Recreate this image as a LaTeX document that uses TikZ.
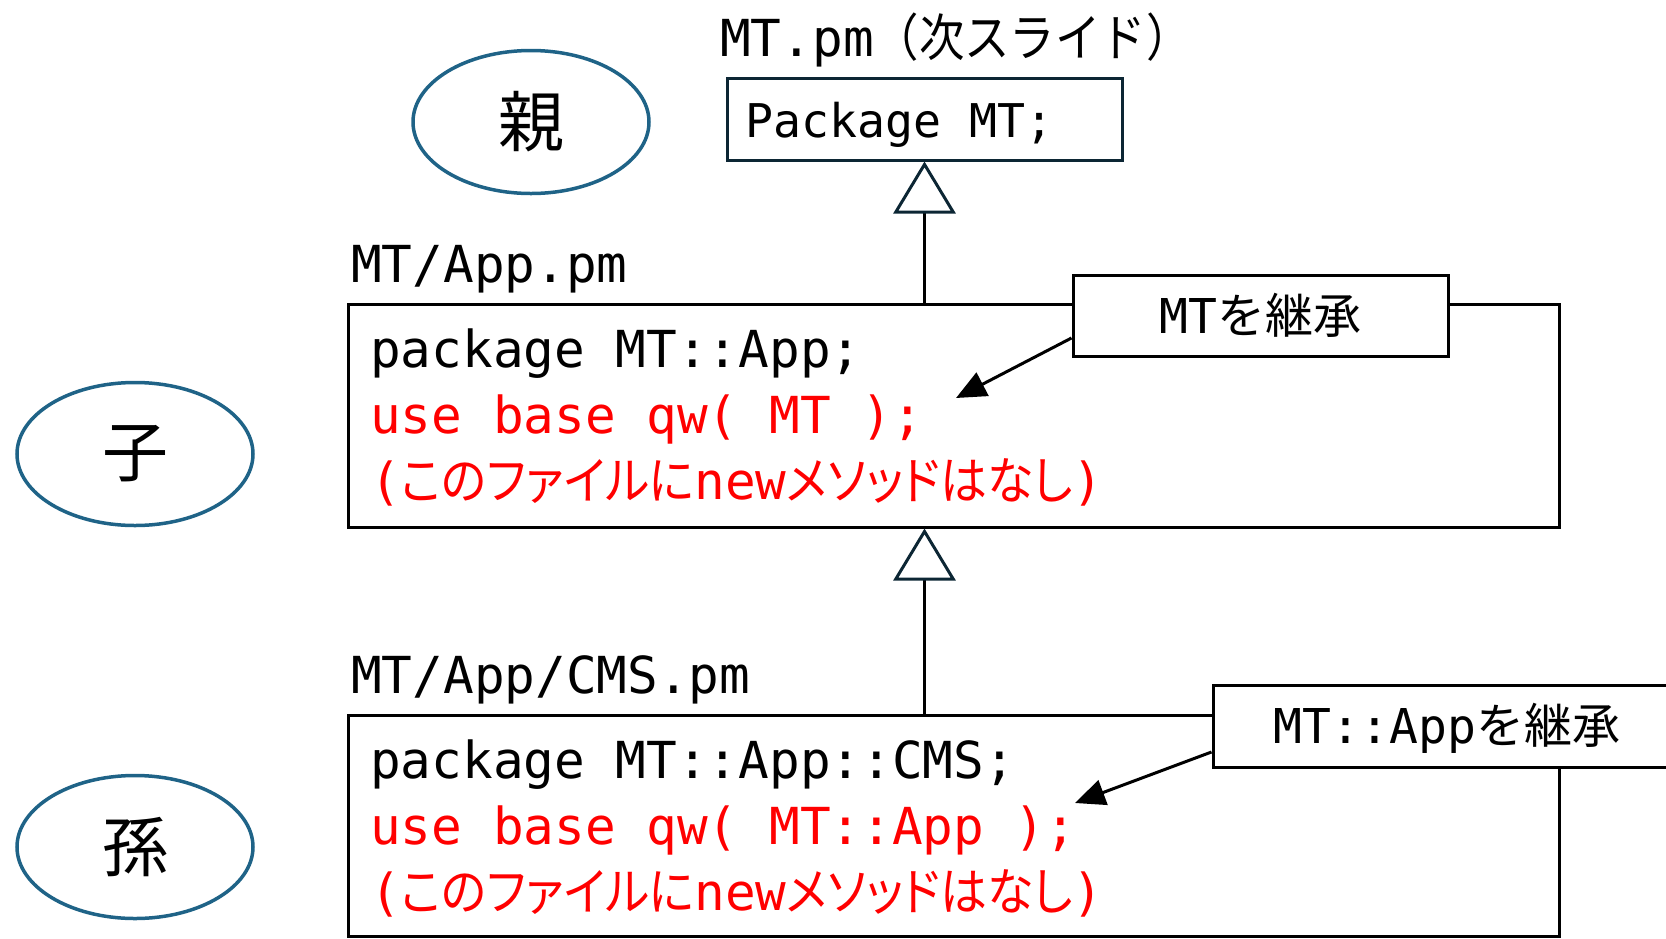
\documentclass[tikz,border=0pt]{standalone}
\usepackage{fontspec}
\setmonofont{DejaVu Sans Mono}
\newfontfamily\jp{Noto Sans CJK JP}
\newfontfamily\jpn[FakeStretch=0.89]{Noto Sans CJK JP}
\newfontfamily\jpp[RawFeature=+palt, FakeStretch=0.92]{Noto Sans CJK JP}
\usetikzlibrary{arrows.meta,shapes.geometric,calc}
\definecolor{ellc}{RGB}{31,99,135}
\definecolor{navy}{RGB}{12,38,52}
\definecolor{codered}{RGB}{255,0,0}
\tikzset{
  ellnode/.style={draw=ellc, line width=3.5pt, ellipse, minimum width=236pt, minimum height=143pt, inner sep=0pt, font=\jp\fontsize{66pt}{70pt}\selectfont},
  bigbox/.style={draw=black, line width=3pt, inner sep=0pt},
  pmbox/.style={draw=navy, line width=3pt, inner sep=0pt},
  callbox/.style={draw=black, fill=white, line width=3pt, inner sep=0pt, text height=45pt, text depth=10pt, font=\ttfamily\fontsize{48pt}{54pt}\selectfont},
  codetxt/.style={anchor=base west, inner sep=0pt, font=\ttfamily\fontsize{51pt}{60pt}\selectfont},
  redtxt/.style={codetxt, text=codered},
  lbltxt/.style={anchor=base west, inner sep=0pt, font=\ttfamily\fontsize{51pt}{56pt}\selectfont},
  inherit/.style={line width=3pt, draw=black, -{Triangle[open, length=52pt, width=62pt, color=navy]}},
  callarrow/.style={line width=3pt, -{Triangle[length=30pt, width=26pt]}}
}
\begin{document}
\begin{tikzpicture}[x=1pt, y=-1pt]
\useasboundingbox (0,0) rectangle (1666,938);
% ellipses
\node[ellnode] (oya) at (531,122) {親};
\node[ellnode] (ko) at (135,454) {子};
\node[ellnode] (mago) at (135,847) {孫};
% parent
\node[lbltxt] (pmlbl) at (720,56) {MT.pm{\jpn （次スライド）}};
\node[pmbox, minimum width=395pt, minimum height=82pt] (pm) at (924.5,119) {};
\node[lbltxt, font=\ttfamily\fontsize{46.5pt}{56pt}\selectfont] (pmtxt) at (745,137) {Package MT;};
% child box
\node[lbltxt] (applbl) at (351,282) {MT/App.pm};
\node[bigbox, minimum width=1211pt, minimum height=223pt] (app) at (953.5,415.5) {};
\node[codetxt] (a1) at (370,367) {package MT::App;};
\node[redtxt] (a2) at (370,433) {use base qw( MT );};
\node[redtxt] (a3) at (370,499) {(\jpp このファイルに\ttfamily new\jpp メソッドはなし\ttfamily )};
% grandchild box
\node[lbltxt] (cmslbl) at (351,693) {MT/App/CMS.pm};
\node[bigbox, minimum width=1211pt, minimum height=221pt] (cms) at (953.5,825.5) {};
\node[codetxt] (b1) at (370,778) {package MT::App::CMS;};
\node[redtxt] (b2) at (370,844) {use base qw( MT::App );};
\node[redtxt] (b3) at (370,910) {(\jpp このファイルに\ttfamily new\jpp メソッドはなし\ttfamily )};
% inheritance connectors
\draw[inherit] (pm.south |- app.north) -- (pm.south);
\draw[inherit] (pm.south |- cms.north) -- (pm.south |- app.south);
% callouts
\node[callbox, minimum width=375pt, minimum height=81pt] (c1) at (1260.5,315.5) {MT{\jp を継承}};
\node[callbox, minimum width=468pt, minimum height=82pt] (c2) at (1447,726) {MT::App{\jp を継承}};
\coordinate (t1) at (956,398);
\coordinate (t2) at (1075,803);
\draw[callarrow] ($(c1.west)+(0,22.5)$) -- (t1);
\draw[callarrow] ($(c2.west)+(0,26)$) -- (t2);
\end{tikzpicture}
\end{document}
